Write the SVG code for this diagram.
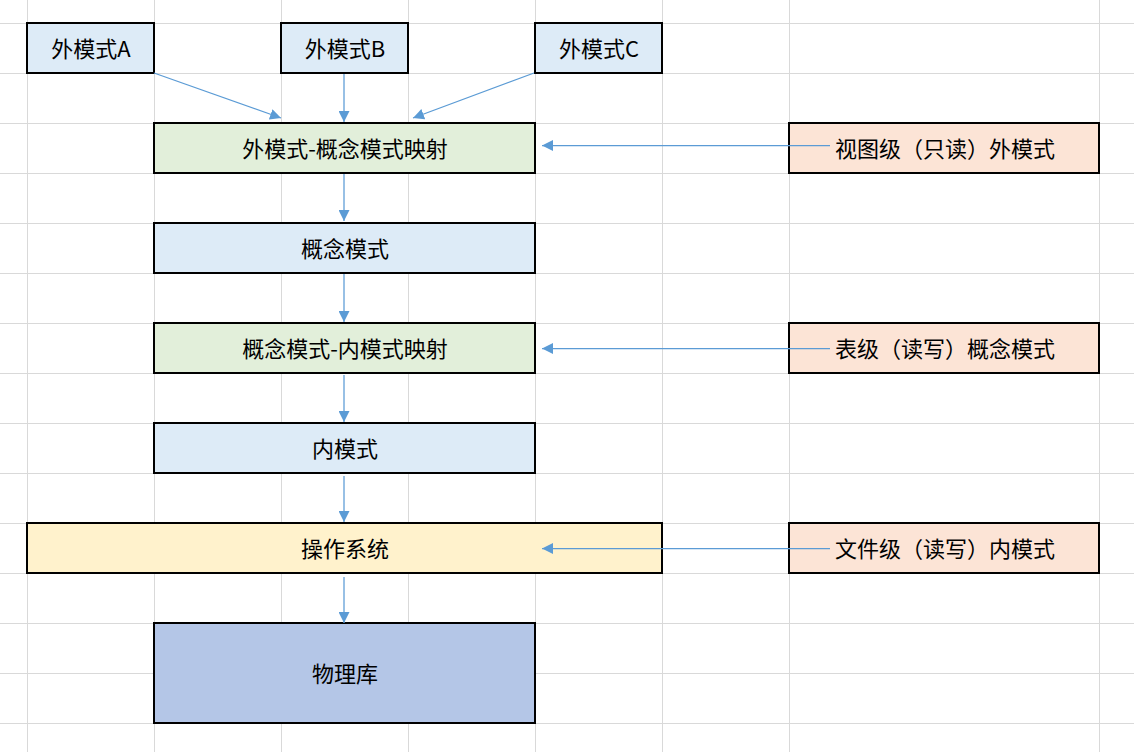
<svg xmlns="http://www.w3.org/2000/svg" width="1134" height="752" viewBox="0 0 1134 752">
<defs>
<style>
.grid line{stroke:#D9D9D9;stroke-width:1}
.box{stroke:#000;stroke-width:2}
.blue{fill:#DDEBF7}
.green{fill:#E2EFDA}
.peach{fill:#FCE4D6}
.yellow{fill:#FFF2CC}
.dark{fill:#B4C6E7}
text{font-family:"Noto Sans CJK SC","Microsoft YaHei",sans-serif;font-size:22px;fill:#000;text-anchor:middle;dominant-baseline:central}
.conn line{stroke:#5B9BD5;stroke-width:1.25;marker-end:url(#arr)}
</style>
<marker id="arr" markerUnits="userSpaceOnUse" markerWidth="11" markerHeight="11" refX="11" refY="5.5" orient="auto">
<path d="M0,0 L11,5.5 L0,11 z" fill="#5B9BD5"/>
</marker>
</defs>
<rect width="1134" height="752" fill="#fff"/>
<g class="grid">
<line x1="27.5" y1="0" x2="27.5" y2="752"/>
<line x1="154.5" y1="0" x2="154.5" y2="752"/>
<line x1="281.5" y1="0" x2="281.5" y2="752"/>
<line x1="408.5" y1="0" x2="408.5" y2="752"/>
<line x1="535.5" y1="0" x2="535.5" y2="752"/>
<line x1="662.5" y1="0" x2="662.5" y2="752"/>
<line x1="789.5" y1="0" x2="789.5" y2="752"/>
<line x1="1099.5" y1="0" x2="1099.5" y2="752"/>
<line x1="0" y1="23.5" x2="1134" y2="23.5"/>
<line x1="0" y1="73.5" x2="1134" y2="73.5"/>
<line x1="0" y1="123.5" x2="1134" y2="123.5"/>
<line x1="0" y1="173.5" x2="1134" y2="173.5"/>
<line x1="0" y1="223.5" x2="1134" y2="223.5"/>
<line x1="0" y1="273.5" x2="1134" y2="273.5"/>
<line x1="0" y1="323.5" x2="1134" y2="323.5"/>
<line x1="0" y1="373.5" x2="1134" y2="373.5"/>
<line x1="0" y1="423.5" x2="1134" y2="423.5"/>
<line x1="0" y1="473.5" x2="1134" y2="473.5"/>
<line x1="0" y1="523.5" x2="1134" y2="523.5"/>
<line x1="0" y1="573.5" x2="1134" y2="573.5"/>
<line x1="0" y1="623.5" x2="1134" y2="623.5"/>
<line x1="0" y1="673.5" x2="1134" y2="673.5"/>
<line x1="0" y1="723.5" x2="1134" y2="723.5"/>
</g>
<g id="extA"><rect class="box blue" x="27" y="23" width="127" height="50"/><text x="91" y="47">外模式A</text></g>
<g id="extB"><rect class="box blue" x="281" y="23" width="127" height="50"/><text x="345" y="47">外模式B</text></g>
<g id="extC"><rect class="box blue" x="535" y="23" width="127" height="50"/><text x="599" y="47">外模式C</text></g>
<g id="map1"><rect class="box green" x="154" y="123" width="381" height="50"/><text x="345" y="147">外模式-概念模式映射</text></g>
<g id="viewExt"><rect class="box peach" x="789" y="123" width="310" height="50"/><text x="945" y="147">视图级（只读）外模式</text></g>
<g id="concept"><rect class="box blue" x="154" y="223" width="381" height="50"/><text x="345" y="247">概念模式</text></g>
<g id="map2"><rect class="box green" x="154" y="323" width="381" height="50"/><text x="345" y="347">概念模式-内模式映射</text></g>
<g id="tableConcept"><rect class="box peach" x="789" y="323" width="310" height="50"/><text x="945" y="347">表级（读写）概念模式</text></g>
<g id="internal"><rect class="box blue" x="154" y="423" width="381" height="50"/><text x="345" y="447">内模式</text></g>
<g id="os"><rect class="box yellow" x="27" y="523" width="635" height="50"/><text x="345" y="547">操作系统</text></g>
<g id="fileInternal"><rect class="box peach" x="789" y="523" width="310" height="50"/><text x="945" y="547">文件级（读写）内模式</text></g>
<g id="physical"><rect class="box dark" x="154" y="623" width="381" height="100"/><text x="345" y="672">物理库</text></g>
<g class="conn" id="connectors">
<line x1="154" y1="73" x2="281" y2="118"/>
<line x1="344" y1="74" x2="344" y2="122"/>
<line x1="534" y1="73" x2="413" y2="118"/>
<line x1="830" y1="145.5" x2="542" y2="145.5"/>
<line x1="344" y1="174" x2="344" y2="221"/>
<line x1="344" y1="274" x2="344" y2="322"/>
<line x1="830" y1="348.5" x2="542" y2="348.5"/>
<line x1="344" y1="375" x2="344" y2="422"/>
<line x1="344" y1="476" x2="344" y2="522"/>
<line x1="830" y1="548.5" x2="542" y2="548.5"/>
<line x1="344" y1="577" x2="344" y2="623"/>
</g>
</svg>
